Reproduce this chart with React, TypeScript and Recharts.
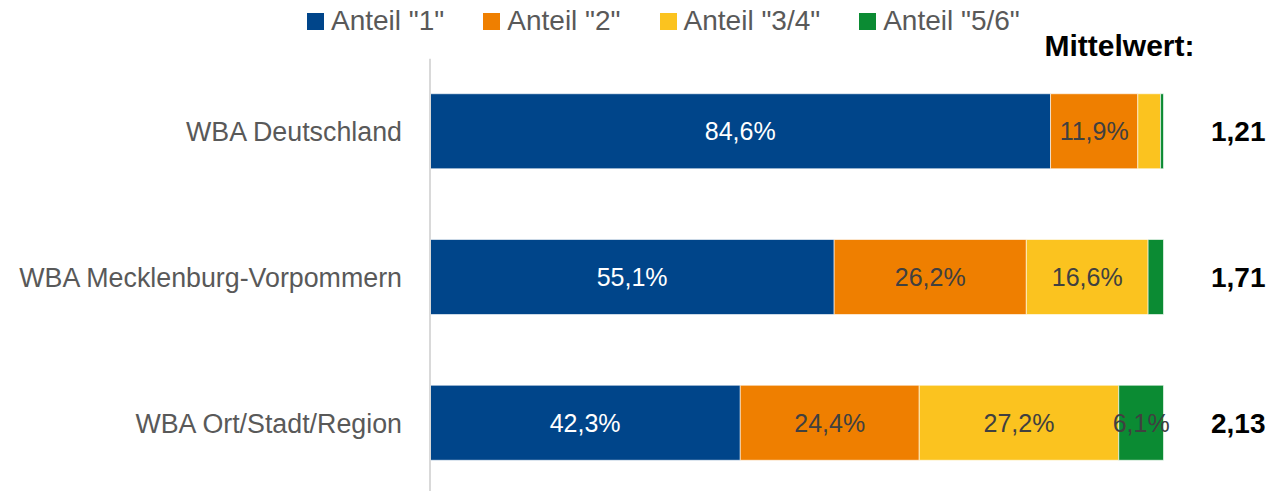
import React from 'react';
import { BarChart, Bar, XAxis, YAxis, Legend, LabelList, Label } from 'recharts';

const categories = ['WBA Deutschland', 'WBA Mecklenburg-Vorpommern', 'WBA Ort/Stadt/Region'];
const anteil1 = [84.6, 55.1, 42.3];
const anteil2 = [11.9, 26.2, 24.4];
const anteil34 = [3.1, 16.6, 27.2];
const anteil56 = [0.4, 2.1, 6.1];
const means = ['1,21', '1,71', '2,13'];

const seriesNames = ['Anteil "1"', 'Anteil "2"', 'Anteil "3/4"', 'Anteil "5/6"'];
const seriesKeys = ['a1', 'a2', 'a34', 'a56'];
const seriesColors = ['#00458A', '#EF7F00', '#FBC31F', '#0B8B33'];
const labelColors = ['#FFFFFF', '#404040', '#404040', '#404040'];

const data = categories.map((name, i) => ({
  name,
  mean: means[i],
  a1: anteil1[i],
  a2: anteil2[i],
  a34: anteil34[i],
  a56: anteil56[i],
}));

const FONT = "'Liberation Sans', Arial, sans-serif";

const fmt = (v: any) => (typeof v === 'number' && v >= 5 ? v.toFixed(1).replace('.', ',') + '%' : '');

const LeftTick = (props: any) => {
  const { x, y, payload } = props;
  return (
    <text x={x} y={y} dy="0.35em" textAnchor="end" fill="#595959" fontSize={26.8} fontFamily={FONT}>
      {payload.value}
    </text>
  );
};

const RightTick = (props: any) => {
  const { x, y, payload } = props;
  return (
    <text x={x} y={y} dy="0.35em" textAnchor="start" fill="#000000" fontSize={28} fontWeight="bold" fontFamily={FONT}>
      {payload.value}
    </text>
  );
};

const LegendContent = () => (
  <div
    style={{
      height: 40,
      display: 'flex',
      alignItems: 'center',
      paddingLeft: 307,
      paddingTop: 2,
      boxSizing: 'border-box',
      fontFamily: FONT,
      fontSize: 28,
      color: '#595959',
      whiteSpace: 'nowrap',
    }}
  >
    {seriesNames.map((n, i) => (
      <div key={n} style={{ display: 'flex', alignItems: 'center', marginRight: 39 }}>
        <div style={{ width: 17, height: 17, background: seriesColors[i], marginRight: 7 }} />
        <span>{n}</span>
      </div>
    ))}
  </div>
);

const MeanTitle = (props: any) => {
  const vb = props.viewBox || { x: 1163.5, y: 58.75 };
  return (
    <text x={vb.x - 44} y={vb.y - 2.5} textAnchor="middle" fill="#000000" fontSize={30} fontWeight="bold" fontFamily={FONT}>
      Mittelwert:
    </text>
  );
};

export default function App() {
  return (
    <div style={{ position: 'absolute', left: 0, top: 0, width: 1282, height: 491, overflow: 'hidden', background: '#fff' }}>
      <BarChart
        width={1282}
        height={496}
        data={data}
        layout="vertical"
        margin={{ top: 18.75, right: 0, bottom: 0, left: 0 }}
        barSize={75}
      >
        <XAxis type="number" domain={[0, 100]} hide />
        <YAxis
          yAxisId="left"
          type="category"
          dataKey="name"
          width={430}
          tickLine={false}
          tickMargin={22}
          axisLine={{ stroke: '#D9D9D9', strokeWidth: 2 }}
          tick={<LeftTick />}
          interval={0}
        />
        <YAxis
          yAxisId="right"
          orientation="right"
          type="category"
          dataKey="mean"
          width={118.5}
          tickLine={false}
          axisLine={false}
          tickMargin={41.5}
          tick={<RightTick />}
          interval={0}
        >
          <Label content={<MeanTitle />} />
        </YAxis>
        <Legend
          verticalAlign="top"
          align="left"
          wrapperStyle={{ top: 0, left: 0, width: 1282 }}
          content={<LegendContent />}
        />
        {seriesKeys.map((k, i) => (
          <Bar
            key={k}
            yAxisId="left"
            dataKey={k}
            name={seriesNames[i]}
            stackId="s"
            fill={seriesColors[i]}
            stroke="#FFFFFF"
            strokeWidth={0.6}
            isAnimationActive={false}
          >
            <LabelList
              dataKey={k}
              position="center"
              formatter={fmt}
              fill={labelColors[i]}
              fontSize={25}
              fontFamily={FONT}
            />
          </Bar>
        ))}
      </BarChart>
    </div>
  );
}
